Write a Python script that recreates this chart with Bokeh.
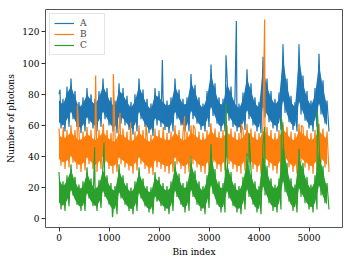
from bokeh.plotting import figure
from bokeh.models import FixedTicker, Range1d, Legend, LegendItem
from bokeh.embed import file_html
from bokeh.resources import INLINE

# sample positions (bin index) of the readings
bins = list(range(0, 5400, 80))

# envelope readings (upper / lower) of each noisy series
A_hi = [80, 77, 85, 90, 82, 75, 78, 84, 80, 77, 82, 90, 84, 78, 76, 87, 84, 79, 75, 80,
        90, 83, 77, 74, 84, 82, 79, 76, 78, 90, 83, 77, 78, 93, 86, 78, 74, 82, 99, 87,
        78, 77, 92, 85, 78, 74, 81, 96, 87, 78, 75, 104, 90, 82, 77, 81, 112, 90, 79, 75,
        112, 92, 82, 76, 84, 106, 89, 76]
A_lo = [58, 56, 59, 64, 59, 55, 56, 61, 58, 56, 59, 64, 60, 56, 55, 61, 60, 57, 54, 56,
        64, 59, 55, 53, 60, 59, 57, 55, 56, 64, 60, 56, 56, 64, 61, 57, 56, 59, 66, 61,
        56, 56, 63, 59, 56, 55, 57, 64, 60, 56, 55, 65, 62, 58, 56, 57, 68, 62, 57, 56,
        67, 63, 58, 56, 59, 67, 61, 56]
B_hi = [58, 56, 57, 60, 57, 55, 56, 59, 57, 55, 57, 60, 57, 55, 54, 59, 58, 56, 54, 56,
        60, 57, 55, 54, 58, 57, 56, 55, 56, 60, 57, 55, 56, 60, 58, 56, 55, 57, 61, 58,
        56, 57, 60, 58, 56, 55, 57, 61, 58, 56, 55, 61, 59, 57, 55, 57, 62, 59, 56, 55,
        61, 59, 57, 55, 57, 61, 58, 56]
B_lo = [34, 32, 33, 36, 32, 30, 31, 35, 32, 30, 32, 36, 32, 29, 30, 35, 33, 31, 29, 31,
        35, 32, 29, 28, 33, 32, 30, 29, 30, 35, 32, 29, 30, 35, 33, 30, 29, 31, 36, 32,
        30, 31, 35, 32, 30, 29, 31, 36, 32, 30, 29, 36, 33, 31, 29, 31, 37, 33, 30, 29,
        36, 33, 31, 29, 31, 36, 33, 30]
C_hi = [30, 24, 28, 35, 27, 22, 24, 33, 26, 22, 25, 35, 28, 23, 21, 35, 28, 23, 20, 24,
        33, 26, 21, 20, 30, 27, 23, 21, 24, 37, 29, 23, 24, 40, 31, 24, 21, 28, 48, 32,
        24, 23, 40, 30, 23, 21, 27, 42, 32, 24, 21, 48, 34, 26, 22, 26, 57, 36, 26, 22,
        45, 36, 27, 22, 28, 50, 34, 23]
C_lo = [6, 5, 8, 15, 9, 5, 5, 13, 8, 5, 7, 14, 9, 4, 3, 13, 9, 5, 3, 5,
        13, 8, 4, 3, 11, 8, 5, 3, 5, 14, 9, 4, 5, 14, 9, 5, 3, 7, 16, 9,
        4, 4, 13, 8, 4, 3, 6, 14, 9, 4, 3, 15, 10, 5, 4, 6, 17, 11, 5, 4,
        14, 10, 6, 4, 6, 15, 10, 6]

# isolated spikes: (bin index, value)
A_spikes = [(20, 83), (2067, 102), (3340, 105), (3547, 127)]
B_spikes = [(87, 59), (367, 73), (733, 92), (887, 61), (1087, 93), (1220, 68),
            (1434, 62), (1740, 60), (2087, 59), (2513, 66), (2687, 60), (3034, 61),
            (3647, 61), (4113, 128), (4480, 60), (4847, 60), (5180, 60)]
C_spikes = [(713, 46), (900, 49), (1070, 1), (3340, 74), (3800, 55), (4113, 59),
            (4447, 65), (5167, 69)]

names = ["A", "B", "C"]
colors = ["#1f77b4", "#ff7f0e", "#2ca02c"]
x_ticks = [0, 1000, 2000, 3000, 4000, 5000]
y_ticks = [0, 20, 40, 60, 80, 100, 120]

FONT = "DejaVu Serif"

p = figure(width=350, height=262, output_backend="svg", toolbar_location=None,
           x_range=Range1d(-270, 5670), y_range=Range1d(-5.6, 134.4),
           min_border_left=45, min_border_right=8, min_border_top=9, min_border_bottom=35)
p.xgrid.visible = False
p.ygrid.visible = False
p.outline_line_color = "#555555"
p.outline_line_width = 1


def zigzag(hi, lo, spikes):
    pts = []
    for b, h, l in zip(bins, hi, lo):
        pts.append((b, h))
        pts.append((b + 40, l))
    pts += spikes
    pts.sort()
    return [q[0] for q in pts], [q[1] for q in pts]


items = []
for name, col, hi, lo, sp in zip(names, colors, [A_hi, B_hi, C_hi], [A_lo, B_lo, C_lo],
                                 [A_spikes, B_spikes, C_spikes]):
    # solid core of the band, slightly inside the envelope so the noisy edge shows
    core_lo = [l + 0.18 * (h - l) for h, l in zip(hi, lo)]
    core_hi = [h - 0.18 * (h - l) for h, l in zip(hi, lo)]
    p.varea(x=bins, y1=core_lo, y2=core_hi, fill_color=col, fill_alpha=1.0)
    xs, ys = zigzag(hi, lo, sp)
    r = p.line(xs, ys, line_color=col, line_width=1.2)
    items.append(LegendItem(label=name, renderers=[r]))

legend = Legend(items=items, location="top_left", margin=4, padding=4, spacing=1,
                glyph_width=20, glyph_height=10, label_height=10, label_standoff=6,
                label_text_font=FONT, label_text_font_size="9px",
                border_line_color="#cccccc", background_fill_alpha=0.8)
p.add_layout(legend, "center")

for ax in (p.xaxis[0], p.yaxis[0]):
    ax.major_label_text_font = FONT
    ax.major_label_text_font_size = "9px"
    ax.axis_label_text_font = FONT
    ax.axis_label_text_font_size = "9px"
    ax.axis_label_text_font_style = "normal"
    ax.major_tick_in = 0
    ax.major_tick_out = 4
    ax.minor_tick_in = 0
    ax.minor_tick_out = 0
    ax.axis_line_color = None
    ax.major_tick_line_color = "#333333"
    ax.major_label_text_color = "#000000"
    ax.axis_label_text_color = "#000000"
    ax.major_label_standoff = 2
    ax.axis_label_standoff = 3

p.xaxis[0].ticker = FixedTicker(ticks=x_ticks)
p.yaxis[0].ticker = FixedTicker(ticks=y_ticks)
p.xaxis[0].axis_label = "Bin index"
p.yaxis[0].axis_label = "Number of photons"

open("out.html", "w").write(file_html(p, INLINE))
